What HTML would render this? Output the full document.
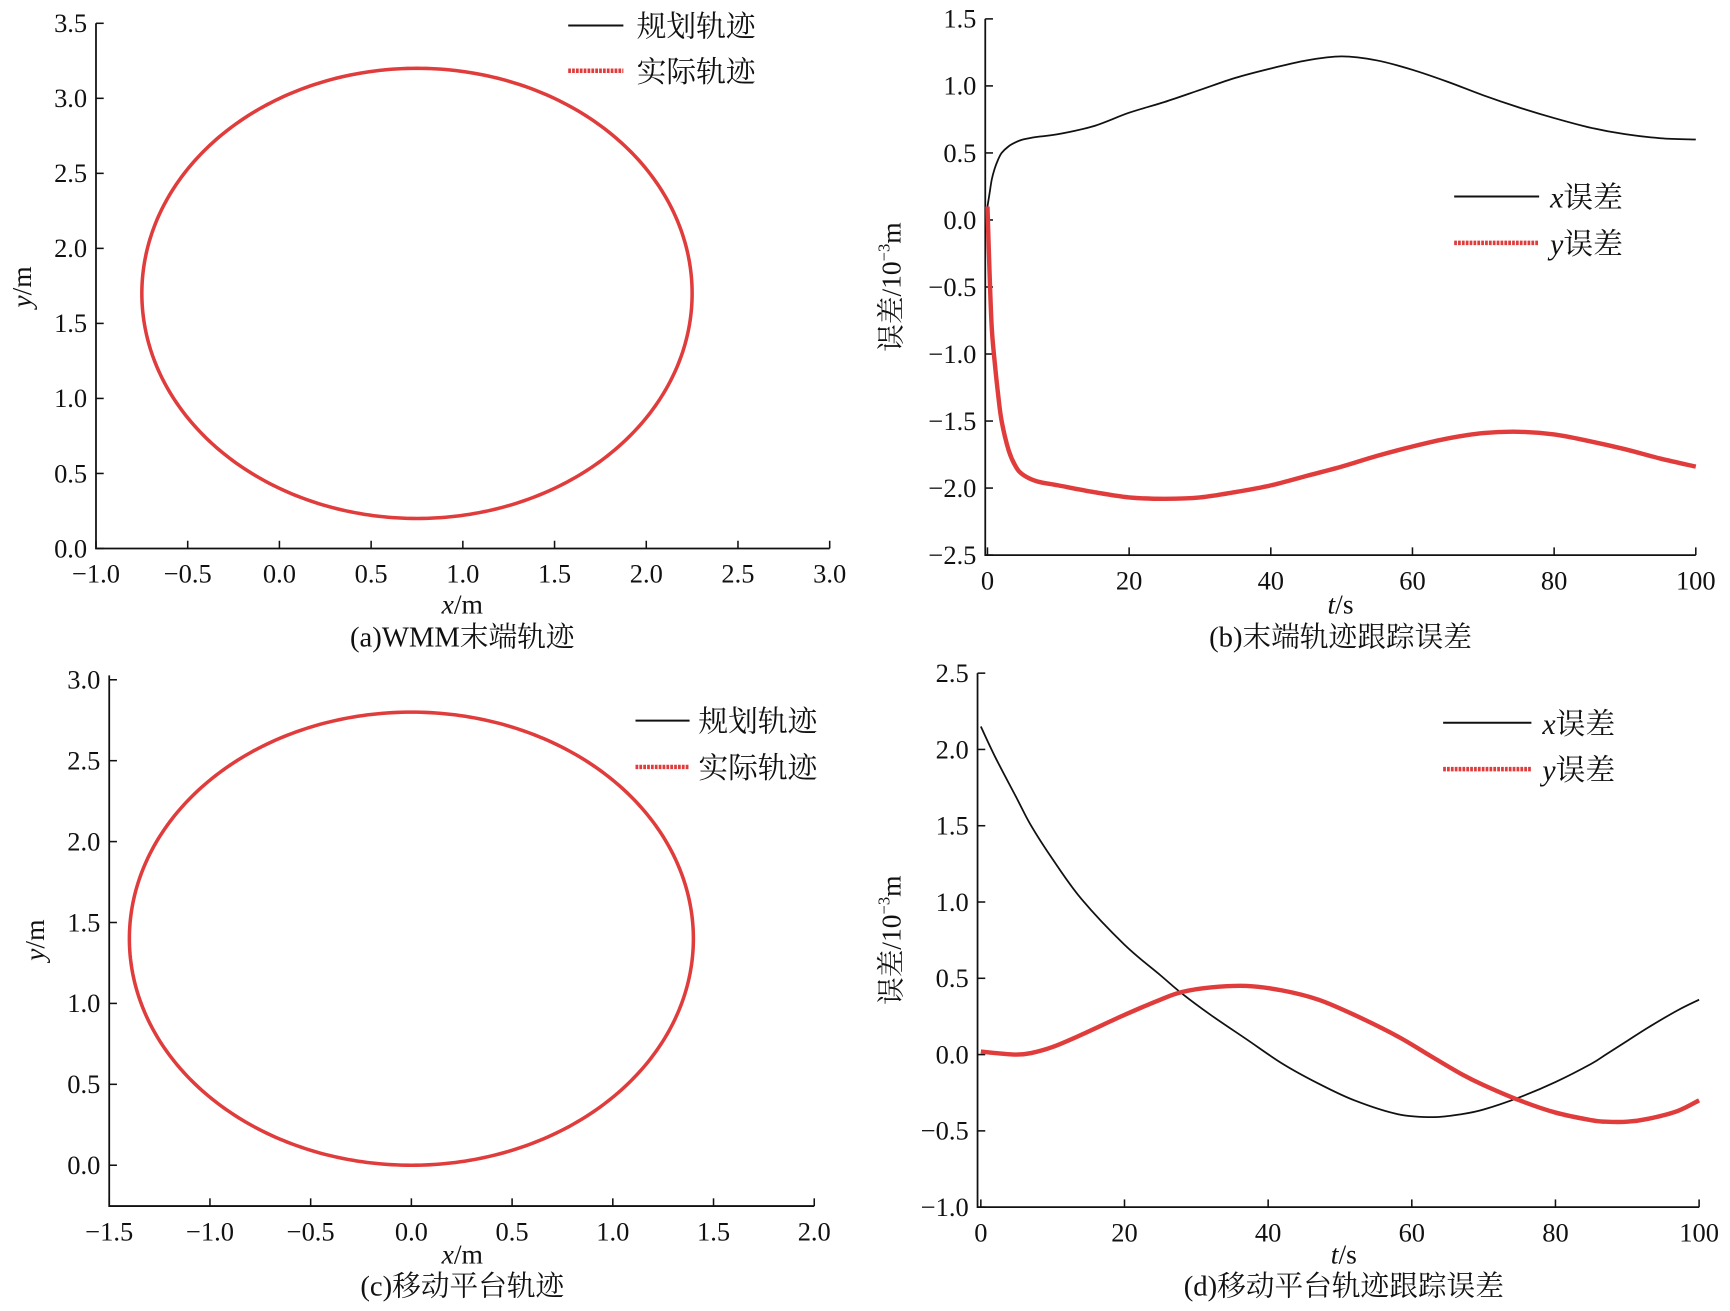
<!DOCTYPE html>
<html><head><meta charset="utf-8"><style>
html,body{margin:0;padding:0;background:#fff}
svg{display:block}
text{font-family:"Liberation Serif","Noto Serif CJK SC","Noto Sans CJK SC",serif;fill:#111}
</style></head><body>
<svg id="fig" width="1730" height="1311" viewBox="0 0 1568 1188" xmlns="http://www.w3.org/2000/svg"></svg>
<script>
// ---- data ----
const ellipseA = [0.75, 1.7, 1.5, 1.5];   // cx, cy, rx, ry (panel a)
const ellipseC = [0.0, 1.4, 1.4, 1.4];    // panel c
const tB = [0,0.3,0.6,1,1.5,2,3,4,5,7,10,15,20,25,30,35,40,45,50,55,60,65,70,75,80,85,90,95,100];
const xErrB = [0.1,0.2,0.3,0.38,0.45,0.5,0.55,0.58,0.6,0.62,0.64,0.7,0.8,0.88,0.97,1.06,1.13,1.19,1.22,1.19,1.12,1.03,0.93,0.84,0.76,0.69,0.64,0.61,0.6];
const yErrB = [0.1,-0.4,-0.8,-1.05,-1.3,-1.5,-1.72,-1.84,-1.9,-1.95,-1.98,-2.03,-2.07,-2.08,-2.07,-2.03,-1.98,-1.91,-1.84,-1.76,-1.69,-1.63,-1.59,-1.58,-1.6,-1.65,-1.71,-1.78,-1.84];
const tD = [0,2,5,7,10,14,20,25,28,32,37,42,47,52,58,63,67,70,75,80,85,87,90,93,97,100];
const xErrD = [2.15,1.95,1.68,1.5,1.28,1.02,0.72,0.52,0.4,0.26,0.1,-0.06,-0.19,-0.3,-0.39,-0.41,-0.39,-0.36,-0.28,-0.18,-0.06,0.0,0.09,0.18,0.29,0.36];
const yErrD = [0.02,0.01,0.0,0.01,0.05,0.13,0.26,0.36,0.41,0.44,0.45,0.42,0.36,0.26,0.12,-0.02,-0.13,-0.2,-0.3,-0.38,-0.43,-0.44,-0.44,-0.42,-0.37,-0.3];
const ticksAx = [-1.0,-0.5,0.0,0.5,1.0,1.5,2.0,2.5,3.0];
const ticksAy = [0.0,0.5,1.0,1.5,2.0,2.5,3.0,3.5];
const ticksBx = [0,20,40,60,80,100];
const ticksBy = [-2.5,-2.0,-1.5,-1.0,-0.5,0.0,0.5,1.0,1.5];
const ticksCx = [-1.5,-1.0,-0.5,0.0,0.5,1.0,1.5,2.0];
const ticksCy = [0.0,0.5,1.0,1.5,2.0,2.5,3.0];
const ticksDy = [-1.0,-0.5,0.0,0.5,1.0,1.5,2.0,2.5];

const NS="http://www.w3.org/2000/svg";
const svg=document.getElementById('fig');
function mk(tag,attrs,parent){const e=document.createElementNS(NS,tag);for(const k in attrs)e.setAttribute(k,attrs[k]);(parent||svg).appendChild(e);return e;}
function txt(s,x,y,size,anchor,parent){const t=mk('text',{x:x,y:y,'font-size':size,'text-anchor':anchor||'middle'},parent);t.innerHTML=s;return t;}
const fmt=v=>(v<0?'\u2212':'')+Math.abs(v).toFixed(1);
const RED='#e03c3c';

function panel(cfg){
  const g=mk('g',{});
  
  
  const X=v=>cfg.px0+(v-cfg.xmin)/(cfg.xmax-cfg.xmin)*(cfg.px1-cfg.px0);
  const Y=v=>cfg.py0-(v-cfg.ymin)/(cfg.ymax-cfg.ymin)*(cfg.py0-cfg.py1);
  const ax=mk('path',{d:`M${cfg.axX},${cfg.axTop}V${cfg.py0}H${cfg.px1}`,stroke:'#111','stroke-width':1.6,fill:'none'},g);
  
  
  cfg.xt.forEach(v=>{mk('line',{x1:X(v),x2:X(v),y1:cfg.py0,y2:cfg.py0-7,stroke:'#111','stroke-width':1.4},g);
    const t=txt(cfg.xfmt(v),X(v),cfg.py0+31,24,'middle',g);
    
    });
  cfg.yt.forEach(v=>{mk('line',{x1:cfg.axX,x2:cfg.axX+7,y1:Y(v),y2:Y(v),stroke:'#111','stroke-width':1.4},g);
    const t=txt(fmt(v),cfg.axX-8,Y(v)+8,24,'end',g);
    
    });
  return {g,X,Y};
}
function ellipsePath(p,e){let d='';for(let i=0;i<=360;i++){const a=i*Math.PI/180;d+=(i?'L':'M')+p.X(e[0]+e[2]*Math.cos(a)).toFixed(2)+','+p.Y(e[1]+e[3]*Math.sin(a)).toFixed(2);}return d+'Z';}
function linePath(p,xs,ys){
  const pts=xs.map((x,i)=>[p.X(x),p.Y(ys[i])]);let d=`M${pts[0][0]},${pts[0][1]}`;
  for(let i=0;i<pts.length-1;i++){const p0=pts[Math.max(0,i-1)],p1=pts[i],p2=pts[i+1],p3=pts[Math.min(pts.length-1,i+2)];
    d+=`C${p1[0]+(p2[0]-p0[0])/6},${p1[1]+(p2[1]-p0[1])/6} ${p2[0]-(p3[0]-p1[0])/6},${p2[1]-(p3[1]-p1[1])/6} ${p2[0]},${p2[1]}`;}
  return d;}
function legend(g,x1,x2,tx,y1,y2,l1,l2){
  const a=mk('line',{x1:x1,x2:x2,y1:y1,y2:y1,stroke:'#111','stroke-width':1.8},g);
  
  
  txt(l1,tx,y1+10,27,'start',g);
  const b=mk('line',{x1:x1,x2:x2,y1:y2,y2:y2,stroke:RED,'stroke-width':4,'stroke-dasharray':'2.5 1'},g);
  
  
  txt(l2,tx,y2+10,27,'start',g);
}
function curve(g,d,color,w,name){const e=mk('path',{d:d,stroke:color,'stroke-width':w,fill:'none'},g);return e;}

// Panel a
const pa=panel({name:'panel-a',xmin:-1,xmax:3,ymin:0,ymax:3.5,px0:87,px1:752,py0:497,py1:21,axX:87,axTop:21,xt:ticksAx,yt:ticksAy,xfmt:fmt});
curve(pa.g,ellipsePath(pa,ellipseA),'#111',1.5,'planned-trajectory-a');
curve(pa.g,ellipsePath(pa,ellipseA),RED,3.2,'actual-trajectory-a');
legend(pa.g,515,565,577,23,64,'规划轨迹','实际轨迹');
txt('<tspan font-style="italic">x</tspan>/m',419,556,25,'middle',pa.g);
txt('(a)WMM末端轨迹',419,586,26,'middle',pa.g);
const ya=txt('<tspan font-style="italic">y</tspan>/m',0,0,25,'middle',pa.g);ya.setAttribute('transform','translate(28,260) rotate(-90)');

// Panel b
const pb=panel({name:'panel-b',xmin:0,xmax:100,ymin:-2.5,ymax:1.5,px0:895,px1:1537,py0:503,py1:17,axX:893,axTop:17,xt:ticksBx,yt:ticksBy,xfmt:v=>String(v)});
curve(pb.g,linePath(pb,tB,xErrB),'#111',1.6,'x-error-b');
curve(pb.g,linePath(pb,tB,yErrB),RED,4,'y-error-b');
legend(pb.g,1318,1395,1405,178,220,'<tspan font-style="italic">x</tspan>误差','<tspan font-style="italic">y</tspan>误差');
txt('<tspan font-style="italic">t</tspan>/s',1215,556,25,'middle',pb.g);
txt('(b)末端轨迹跟踪误差',1215,586,26,'middle',pb.g);
const yb=txt('误差/10<tspan dy="-10" font-size="15">−3</tspan><tspan dy="10">m</tspan>',0,0,25,'middle',pb.g);yb.setAttribute('transform','translate(816,260) rotate(-90)');

// Panel c
const pc=panel({name:'panel-c',xmin:-1.5,xmax:2,ymin:0,ymax:3,px0:99,px1:738,py0:1056,py1:616,axX:99,axTop:612,xt:ticksCx,yt:ticksCy,xfmt:fmt});
pc.g.querySelector('path').setAttribute('d','M99,612V1093H738');
pc.g.querySelectorAll('line').forEach((l,i)=>{if(i<ticksCx.length){l.setAttribute('y1',1093);l.setAttribute('y2',1086);}});
pc.g.querySelectorAll('text').forEach((t,i)=>{if(i<ticksCx.length)t.setAttribute('y',1124);});
curve(pc.g,ellipsePath(pc,ellipseC),'#111',1.5,'planned-trajectory-c');
curve(pc.g,ellipsePath(pc,ellipseC),RED,3.2,'actual-trajectory-c');
legend(pc.g,576,625,633,653,695,'规划轨迹','实际轨迹');
txt('<tspan font-style="italic">x</tspan>/m',419,1145,25,'middle',pc.g);
txt('(c)移动平台轨迹',419,1174,26,'middle',pc.g);
const yc=txt('<tspan font-style="italic">y</tspan>/m',0,0,25,'middle',pc.g);yc.setAttribute('transform','translate(40,852) rotate(-90)');

// Panel d
const pd=panel({name:'panel-d',xmin:0,xmax:100,ymin:-1,ymax:2.5,px0:889,px1:1540,py0:1094,py1:610,axX:886,axTop:610,xt:ticksBx,yt:ticksDy,xfmt:v=>String(v)});
curve(pd.g,linePath(pd,tD,xErrD),'#111',1.6,'x-error-d');
curve(pd.g,linePath(pd,tD,yErrD),RED,4,'y-error-d');
legend(pd.g,1308,1388,1398,655,697,'<tspan font-style="italic">x</tspan>误差','<tspan font-style="italic">y</tspan>误差');
txt('<tspan font-style="italic">t</tspan>/s',1218,1145,25,'middle',pd.g);
txt('(d)移动平台轨迹跟踪误差',1218,1174,26,'middle',pd.g);
const yd=txt('误差/10<tspan dy="-10" font-size="15">−3</tspan><tspan dy="10">m</tspan>',0,0,25,'middle',pd.g);yd.setAttribute('transform','translate(816,852) rotate(-90)');
</script>
</body></html>
